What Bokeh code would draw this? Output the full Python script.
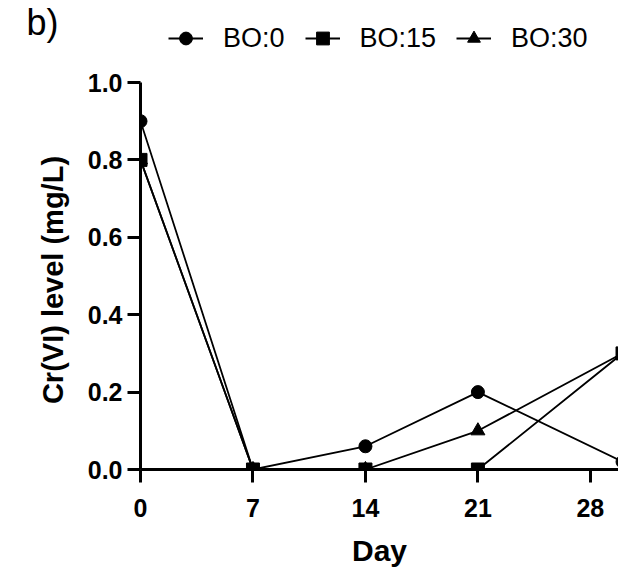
from bokeh.plotting import figure
from bokeh.layouts import column
from bokeh.models import Range1d, FixedTicker, NumeralTickFormatter, Legend, LegendItem, Label
from bokeh.embed import file_html
from bokeh.resources import INLINE

days = [0, 7, 14, 21, 30]
bo0 = [0.9, 0.0, 0.06, 0.2, 0.02]
bo15 = [0.8, 0.0, 0.0, 0.0, 0.3]
bo30 = [0.8, 0.0, 0.0, 0.1, 0.3]
x_ticks = [0, 7, 14, 21, 28]
y_ticks = [0.0, 0.2, 0.4, 0.6, 0.8, 1.0]
series_names = ["BO:0", "BO:15", "BO:30"]

SANS = "'Liberation Sans', Arial, sans-serif"
HEAD_H = 60

p = figure(width=618, height=574 - HEAD_H, output_backend="svg", toolbar_location=None,
           x_range=Range1d(0, 29.75), y_range=Range1d(0, 1.0),
           min_border_left=140, min_border_right=0, min_border_top=82 - HEAD_H,
           min_border_bottom=105)
p.frame_align = False
p.outline_line_color = None
p.xgrid.visible = False
p.ygrid.visible = False

lw = 1.8
markers = ["circle", "square", "triangle"]
msizes = [13, 13, 14]
all_series = [bo0, bo15, bo30]
for ys, m, s in zip(all_series, markers, msizes):
    p.line(days, ys, line_color="black", line_width=lw)
    p.scatter(days, ys, marker=m, size=s, color="black")

for ax in (p.xaxis[0], p.yaxis[0]):
    ax.axis_line_width = 3
    ax.axis_line_color = "black"
    ax.major_tick_line_width = 3
    ax.major_tick_line_color = "black"
    ax.major_tick_out = 13
    ax.major_tick_in = 0
    ax.minor_tick_line_color = None
    ax.major_label_text_font = SANS
    ax.major_label_text_font_style = "bold"
    ax.major_label_text_font_size = "25px"
    ax.major_label_text_color = "black"
    ax.axis_label_text_font = SANS
    ax.axis_label_text_font_style = "bold"
    ax.axis_label_text_color = "black"

p.xaxis[0].ticker = FixedTicker(ticks=x_ticks)
p.yaxis[0].ticker = FixedTicker(ticks=y_ticks)
p.yaxis[0].formatter = NumeralTickFormatter(format="0.0")
p.xaxis[0].major_label_standoff = 16
p.yaxis[0].major_label_standoff = 5

p.xaxis[0].axis_label = "Day"
p.xaxis[0].axis_label_text_font_size = "30px"
p.xaxis[0].axis_label_standoff = 14

p.yaxis[0].axis_label = "Cr(VI) level  (mg/L)"
p.yaxis[0].axis_label_text_font_size = "29px"
p.yaxis[0].axis_label_standoff = 16

# header strip with panel letter and legend (series drawn off-range so only legend glyphs show)
head = figure(width=618, height=HEAD_H, output_backend="svg", toolbar_location=None,
              x_range=Range1d(100, 101), y_range=Range1d(100, 101),
              min_border_left=0, min_border_right=0, min_border_top=0, min_border_bottom=0)
head.frame_align = False
head.axis.visible = False
head.grid.visible = False
head.outline_line_color = None

items = []
for name, ys, m, s in zip(series_names, all_series, markers, msizes):
    rl = head.line(days, ys, line_color="black", line_width=lw)
    rm = head.scatter(days, ys, marker=m, size=s, color="black")
    items.append(LegendItem(label=name, renderers=[rl, rm]))

legend = Legend(items=items, orientation="horizontal", location=(168, 6))
legend.border_line_color = None
legend.background_fill_alpha = 0
legend.padding = 0
legend.margin = 0
legend.spacing = 20
legend.glyph_width = 35
legend.glyph_height = 32
legend.label_standoff = 20
legend.label_text_font = SANS
legend.label_text_font_size = "27px"
legend.label_text_color = "black"
head.add_layout(legend, "center")

lab = Label(x=26, y=HEAD_H - 1, x_units="screen", y_units="screen", text="b)",
            text_font=SANS, text_font_size="36px", text_baseline="top", text_color="black")
head.add_layout(lab)

layout = column(head, p, spacing=0)
open("out.html", "w").write(file_html(layout, INLINE))
